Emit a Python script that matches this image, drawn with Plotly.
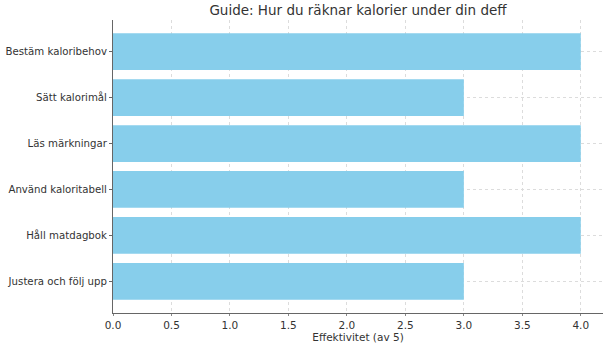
import plotly.graph_objects as go

categories = ["Bestäm kaloribehov", "Sätt kalorimål", "Läs märkningar",
              "Använd kaloritabell", "Håll matdagbok", "Justera och följ upp"]
values = [4, 3, 4, 3, 4, 3]
x_ticks = [0.0, 0.5, 1.0, 1.5, 2.0, 2.5, 3.0, 3.5, 4.0]

fig = go.Figure(go.Bar(
    x=values, y=categories, orientation="h",
    marker=dict(color="#87CEEB", line=dict(width=0)),
    width=0.8,
))

font_family = "DejaVu Sans"
fig.update_layout(
    width=603, height=346,
    margin=dict(l=113, r=0, t=20, b=33),
    paper_bgcolor="white", plot_bgcolor="white",
    font=dict(family=font_family, size=10, color="#333333"),
    title=dict(text="Guide: Hur du räknar kalorier under din deff",
               x=(113 + 603) / 2 / 603, xanchor="center",
               y=1 - 10 / 346, yanchor="middle",
               font=dict(size=13.5, color="#333333")),
    showlegend=False,
    bargap=0.2,
)
fig.update_xaxes(
    range=[0, 4.19], tickvals=x_ticks,
    ticktext=[f"{v:.1f}" for v in x_ticks],
    showgrid=True, gridcolor="#dcdcdc", griddash="dot", gridwidth=1,
    showline=True, linecolor="#666666", linewidth=1,
    ticks="outside", ticklen=2, tickcolor="#888888",
    zeroline=False,
    title=dict(text="Effektivitet (av 5)", standoff=2, font=dict(size=10.5)),
    tickfont=dict(size=10.5),
)
fig.update_yaxes(
    categoryorder="array", categoryarray=categories[::-1],
    range=[-0.69, 5.69],
    showgrid=True, gridcolor="#dcdcdc", griddash="dot", gridwidth=1,
    showline=True, linecolor="#666666", linewidth=1,
    ticks="outside", ticklen=3, tickcolor="#666666",
    tickfont=dict(size=10.2),
)

fig.write_html("out.html")
